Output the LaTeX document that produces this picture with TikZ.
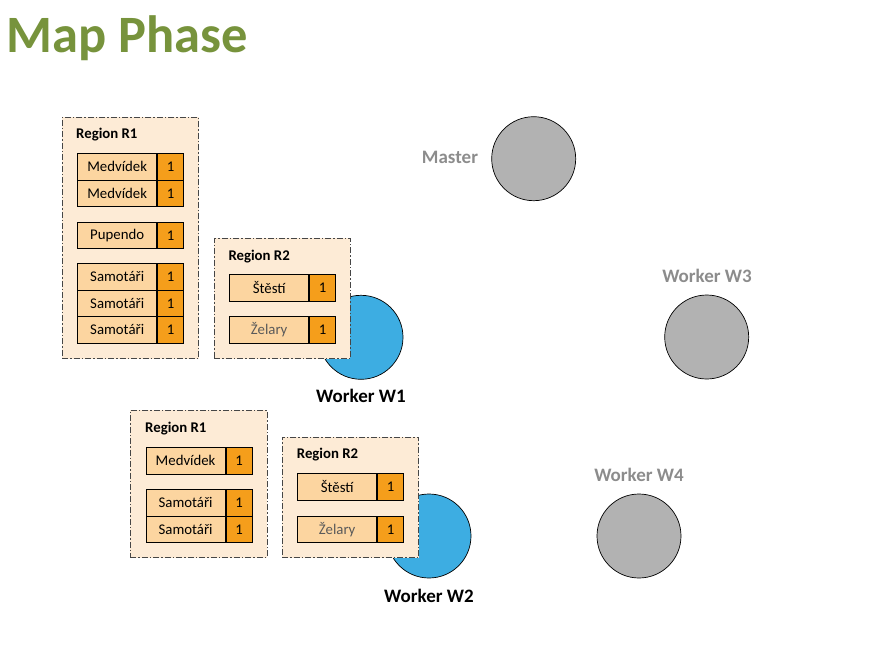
\documentclass[tikz,border=0pt]{standalone}
\usepackage{fontspec}
\setmainfont{Carlito}
\definecolor{titlegreen}{RGB}{119,147,60}
\definecolor{regfill}{RGB}{253,235,214}
\definecolor{keyfill}{RGB}{252,213,160}
\definecolor{numfill}{RGB}{245,158,27}
\definecolor{wblue}{RGB}{61,173,226}
\definecolor{wgray}{RGB}{178,178,178}
\definecolor{lblgray}{RGB}{140,140,140}
\definecolor{dashgray}{RGB}{70,70,70}
\tikzset{
  region/.style={draw=dashgray, line width=0.8pt, dash pattern=on 6pt off 2pt on 1.5pt off 2pt, fill=regfill, anchor=north west, inner sep=0pt},
  regtitle/.style={anchor=west, inner sep=0pt, font=\fontsize{14.8}{16}\selectfont\bfseries},
  keycell/.style={draw=black, line width=0.8pt, fill=keyfill, anchor=north west, inner sep=0pt, minimum height=26.4pt, minimum width=79pt, font=\fontsize{14.8}{16}\selectfont},
  numcell/.style={draw=black, line width=0.8pt, fill=numfill, anchor=north west, inner sep=0pt, minimum height=26.4pt, minimum width=26.3pt, font=\fontsize{14.8}{16}\selectfont},
  worker/.style={circle, draw=black, line width=0.7pt, minimum size=84pt, inner sep=0pt},
  wlabel/.style={inner sep=0pt, font=\fontsize{19}{21}\selectfont\bfseries},
}
\begin{document}
\begin{tikzpicture}[x=1pt,y=-1pt]
\useasboundingbox (0,0) rectangle (887,648);
\node[anchor=west, inner sep=0pt, text=titlegreen, font=\fontsize{52.5}{56}\selectfont\bfseries] (title) at (6,38.5) {Map Phase};

% master and gray workers
\node[worker, fill=wgray] (master) at (533.7,158.7) {};
\node[wlabel, text=lblgray] (masterlbl) at (450,157) {Master};
\node[worker, fill=wgray] (w3) at (706.7,337) {};
\node[wlabel, text=lblgray] (w3lbl) at (707,276) {Worker W3};
\node[worker, fill=wgray] (w4) at (639,536) {};
\node[wlabel, text=lblgray] (w4lbl) at (639,475) {Worker W4};

% blue workers
\node[worker, fill=wblue] (w1) at (361,337.3) {};
\node[wlabel] (w1lbl) at (361,396) {Worker W1};
\node[worker, fill=wblue] (w2) at (429,536) {};
\node[wlabel] (w2lbl) at (429,596) {Worker W2};

% ---- W1 region R1
\node[region, minimum width=136.6pt, minimum height=241.6pt] (r1a) at (61.7,116.7) {};
\node[regtitle] (r1at) at (76,135) {Region R1};
\node[keycell] (a1k) at (77.3,153.3) {Medvídek};
\node[numcell] (a1n) at (a1k.north east) {1};
\node[keycell] (a2k) at (77.3,179.7) {Medvídek};
\node[numcell] (a2n) at (a2k.north east) {1};
\node[keycell] (a3k) at (77.3,221.7) {Pupendo};
\node[numcell] (a3n) at (a3k.north east) {1};
\node[keycell] (a4k) at (77.3,263.3) {Samotáři};
\node[numcell] (a4n) at (a4k.north east) {1};
\node[keycell] (a5k) at (77.3,289.7) {Samotáři};
\node[numcell] (a5n) at (a5k.north east) {1};
\node[keycell] (a6k) at (77.3,316.1) {Samotáři};
\node[numcell] (a6n) at (a6k.north east) {1};

% ---- W1 region R2
\node[region, minimum width=136pt, minimum height=120.6pt] (r2a) at (214,237.7) {};
\node[regtitle] (r2at) at (228.3,256.7) {Region R2};
\node[keycell] (b1k) at (229.3,274.3) {Štěstí};
\node[numcell] (b1n) at (b1k.north east) {1};
\node[keycell, text={rgb,255:red,90;green,90;blue,90}] (b2k) at (229.3,316.3) {Želary};
\node[numcell] (b2n) at (b2k.north east) {1};

% ---- W2 region R1
\node[region, minimum width=136.6pt, minimum height=147.3pt] (r1b) at (130,410) {};
\node[regtitle] (r1bt) at (145,429) {Region R1};
\node[keycell] (c1k) at (145.7,447.3) {Medvídek};
\node[numcell] (c1n) at (c1k.north east) {1};
\node[keycell] (c2k) at (145.7,489.3) {Samotáři};
\node[numcell] (c2n) at (c2k.north east) {1};
\node[keycell] (c3k) at (145.7,515.7) {Samotáři};
\node[numcell] (c3n) at (c3k.north east) {1};

% ---- W2 region R2
\node[region, minimum width=136.6pt, minimum height=120.6pt] (r2b) at (281.7,436.7) {};
\node[regtitle] (r2bt) at (296.7,455) {Region R2};
\node[keycell] (d1k) at (297.3,473.3) {Štěstí};
\node[numcell] (d1n) at (d1k.north east) {1};
\node[keycell, text={rgb,255:red,90;green,90;blue,90}] (d2k) at (297.3,515.7) {Želary};
\node[numcell] (d2n) at (d2k.north east) {1};
\end{tikzpicture}
\end{document}
